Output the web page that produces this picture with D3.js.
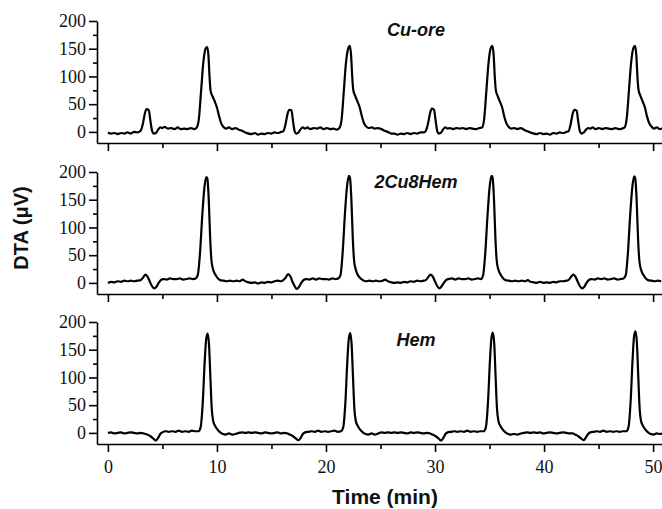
<!DOCTYPE html>
<html>
<head>
<meta charset="utf-8">
<script src="https://cdn.jsdelivr.net/npm/d3@7"></script>
<style>
  body { margin: 0; background: #fff; }
  svg { display: block; }
  .tick text { font-family: 'Liberation Serif', 'DejaVu Serif', serif; font-size: 18px; }
</style>
</head>
<body>
<svg id="chart" width="662" height="509"></svg>
<script>
// [time (min), DTA (uV)]
const cuOre = [
  [0, -1], [0.3, -3], [0.6, -2], [0.9, -4], [1.2, -2], [1.5, -3], [1.8, -1], [2.1, -3], [2.4, 0], [2.7, -1],
  [3.0, 2], [3.2, 14], [3.4, 34], [3.55, 41], [3.75, 39], [3.9, 20], [4.05, 2], [4.2, -3], [4.4, -2], [4.6, 4],
  [4.8, 8], [5.0, 7], [5.2, 9], [5.5, 6], [5.8, 7], [6.1, 5], [6.4, 8], [6.7, 5], [7.0, 6], [7.3, 5],
  [7.6, 7], [7.9, 5], [8.15, 8], [8.35, 25], [8.55, 75], [8.75, 125], [8.95, 150], [9.1, 153], [9.22, 138], [9.32, 100],
  [9.42, 74], [9.6, 64], [9.8, 55], [10.0, 44], [10.2, 28], [10.4, 15], [10.6, 9], [10.85, 6], [11.1, 8], [11.4, 5],
  [11.7, 7], [12.0, 4], [12.3, 2], [12.6, -1], [12.9, -3],
  [13.18, -4], [13.48, -2], [13.78, -5], [14.08, -3], [14.38, -4], [14.68, -2], [14.98, -3], [15.28, -1], [15.58, -2], [15.88, 0],
  [16.08, 1], [16.28, 13], [16.48, 33], [16.63, 40], [16.83, 39], [16.98, 19], [17.13, 1], [17.28, -3], [17.48, -1], [17.68, 5],
  [17.88, 8], [18.08, 6], [18.28, 8], [18.58, 5], [18.88, 7], [19.18, 6], [19.48, 8], [19.78, 5], [20.08, 7], [20.38, 5],
  [20.68, 6], [20.98, 4], [21.23, 7], [21.43, 22], [21.63, 72], [21.83, 124], [22.03, 150], [22.18, 155], [22.30, 139], [22.40, 102],
  [22.50, 76], [22.68, 65], [22.88, 55], [23.08, 45], [23.28, 29], [23.48, 16], [23.68, 10], [23.93, 7], [24.18, 8], [24.48, 6],
  [24.78, 7], [25.08, 5], [25.38, 2], [25.68, 0], [25.98, -3],
  [26.26, -3], [26.56, -5], [26.86, -3], [27.16, -4], [27.46, -2], [27.76, -4], [28.06, -2], [28.36, -3], [28.66, -1], [28.96, -1],
  [29.16, 2], [29.36, 15], [29.56, 35], [29.71, 42], [29.91, 40], [30.06, 20], [30.21, 1], [30.36, -3], [30.56, -1], [30.76, 5],
  [30.96, 8], [31.16, 6], [31.36, 7], [31.66, 5], [31.96, 7], [32.26, 6], [32.56, 7], [32.86, 5], [33.16, 7], [33.46, 6],
  [33.76, 5], [34.06, 7], [34.31, 8], [34.51, 24], [34.71, 74], [34.91, 125], [35.11, 151], [35.26, 155], [35.38, 138], [35.48, 100],
  [35.58, 75], [35.76, 64], [35.96, 54], [36.16, 44], [36.36, 27], [36.56, 15], [36.76, 9], [37.01, 6], [37.26, 7], [37.56, 5],
  [37.86, 7], [38.16, 4], [38.46, 1], [38.76, -1], [39.06, -3],
  [39.34, -4], [39.64, -2], [39.94, -4], [40.24, -3], [40.54, -5], [40.84, -2], [41.14, -3], [41.44, -1], [41.74, -2], [42.04, 0],
  [42.24, 1], [42.44, 14], [42.64, 34], [42.79, 40], [42.99, 38], [43.14, 18], [43.29, 1], [43.44, -3], [43.64, -1], [43.84, 4],
  [44.04, 7], [44.24, 6], [44.44, 8], [44.74, 5], [45.04, 7], [45.34, 5], [45.64, 7], [45.94, 6], [46.24, 5], [46.54, 7],
  [46.84, 5], [47.14, 6], [47.39, 8], [47.59, 26], [47.79, 76], [47.99, 126], [48.19, 151], [48.34, 155], [48.46, 139], [48.56, 101],
  [48.66, 76], [48.84, 65], [49.04, 55], [49.24, 45], [49.44, 28], [49.64, 16], [49.84, 10], [50.09, 6], [50.34, 8], [50.64, 5],
  [50.84, 7]
];

const cu2Hem8 = [
  [0, 0], [0.3, 2], [0.6, 1], [0.9, 3], [1.2, 2], [1.5, 4], [1.8, 3], [2.1, 4], [2.4, 3], [2.7, 4],
  [3.0, 5], [3.2, 9], [3.45, 15], [3.65, 11], [3.85, 2], [4.05, -6], [4.25, -10], [4.45, -7], [4.65, 0], [4.85, 5],
  [5.1, 7], [5.4, 6], [5.7, 8], [6.0, 7], [6.3, 7], [6.6, 8], [6.9, 6], [7.2, 7], [7.5, 8], [7.8, 7],
  [8.05, 8], [8.25, 15], [8.45, 55], [8.65, 120], [8.85, 172], [9.02, 191], [9.12, 188], [9.25, 150], [9.38, 80], [9.5, 40],
  [9.65, 24], [9.85, 15], [10.05, 9], [10.3, 5], [10.6, 4], [10.9, 3], [11.2, 4], [11.5, 3], [11.8, 4], [12.1, 3],
  [12.35, 6], [12.6, 3], [12.9, 1],
  [13.18, 0], [13.48, 1], [13.78, -1], [14.08, 1], [14.38, 0], [14.68, 2], [14.98, 1], [15.28, 3], [15.58, 4], [15.88, 3],
  [16.08, 5], [16.28, 9], [16.53, 16], [16.73, 12], [16.93, 2], [17.13, -6], [17.33, -11], [17.53, -7], [17.73, 0], [17.93, 5],
  [18.18, 7], [18.48, 6], [18.78, 8], [19.08, 6], [19.38, 8], [19.68, 7], [19.98, 7], [20.28, 6], [20.58, 8], [20.88, 7],
  [21.13, 8], [21.33, 14], [21.53, 55], [21.73, 122], [21.93, 174], [22.10, 193], [22.20, 190], [22.33, 150], [22.46, 80], [22.58, 40],
  [22.73, 24], [22.93, 14], [23.13, 9], [23.38, 5], [23.68, 3], [23.98, 4], [24.28, 3], [24.58, 4], [24.88, 3], [25.18, 4],
  [25.43, 6], [25.68, 3], [25.98, 1],
  [26.26, 0], [26.56, 1], [26.86, 0], [27.16, 2], [27.46, 1], [27.76, 3], [28.06, 2], [28.36, 4], [28.66, 3], [28.96, 4],
  [29.16, 5], [29.36, 10], [29.61, 15], [29.81, 11], [30.01, 2], [30.21, -6], [30.41, -10], [30.61, -6], [30.81, 0], [31.01, 5],
  [31.26, 7], [31.56, 8], [31.86, 6], [32.16, 8], [32.46, 7], [32.76, 7], [33.06, 8], [33.36, 6], [33.66, 7], [33.96, 8],
  [34.21, 7], [34.41, 14], [34.61, 54], [34.81, 120], [35.01, 173], [35.18, 193], [35.28, 190], [35.41, 150], [35.54, 80], [35.66, 40],
  [35.81, 24], [36.01, 15], [36.21, 9], [36.46, 5], [36.76, 4], [37.06, 3], [37.36, 4], [37.66, 3], [37.96, 4], [38.26, 3],
  [38.51, 5], [38.76, 2], [39.06, 1],
  [39.34, 0], [39.64, 2], [39.94, 0], [40.24, 1], [40.54, 0], [40.84, 2], [41.14, 1], [41.44, 3], [41.74, 3], [42.04, 4],
  [42.24, 5], [42.44, 10], [42.69, 15], [42.89, 11], [43.09, 2], [43.29, -6], [43.49, -10], [43.69, -7], [43.89, 0], [44.09, 5],
  [44.34, 7], [44.64, 6], [44.94, 8], [45.24, 7], [45.54, 8], [45.84, 6], [46.14, 7], [46.44, 8], [46.74, 6], [47.04, 7],
  [47.29, 8], [47.49, 14], [47.69, 54], [47.89, 120], [48.09, 172], [48.26, 192], [48.36, 189], [48.49, 150], [48.62, 80], [48.74, 40],
  [48.89, 24], [49.09, 15], [49.29, 9], [49.54, 5], [49.84, 4], [50.14, 3], [50.44, 4], [50.74, 3]
];

const hem = [
  [0, 0], [0.3, 1], [0.6, -1], [0.9, 0], [1.2, 1], [1.5, -1], [1.8, 0], [2.1, 1], [2.4, 0], [2.7, -1],
  [3.0, 0], [3.3, -1], [3.6, -3], [3.9, -6], [4.15, -10], [4.4, -14], [4.6, -9], [4.8, -2], [5.0, 1], [5.3, 3],
  [5.6, 2], [5.9, 3], [6.2, 2], [6.5, 4], [6.8, 2], [7.1, 3], [7.4, 2], [7.7, 4], [8.0, 3], [8.3, 3],
  [8.5, 10], [8.7, 55], [8.88, 130], [9.02, 170], [9.15, 179], [9.27, 160], [9.4, 100], [9.52, 45], [9.65, 22], [9.85, 12],
  [10.05, 6], [10.3, 1], [10.55, -2], [10.8, -3], [11.1, -1], [11.4, -3], [11.7, -2], [12.0, 0], [12.3, 1], [12.6, 0],
  [12.9, 1],
  [13.18, 0], [13.48, 1], [13.78, 0], [14.08, -1], [14.38, 1], [14.68, 0], [14.98, -1], [15.28, 0], [15.58, 1], [15.88, -1],
  [16.18, 0], [16.48, -1], [16.68, -3], [16.98, -6], [17.23, -10], [17.48, -13], [17.68, -9], [17.88, -2], [18.08, 1], [18.38, 2],
  [18.68, 3], [18.98, 2], [19.28, 4], [19.58, 2], [19.88, 3], [20.18, 2], [20.48, 3], [20.78, 4], [21.08, 2], [21.38, 3],
  [21.58, 10], [21.78, 55], [21.96, 130], [22.10, 171], [22.23, 180], [22.35, 160], [22.48, 100], [22.60, 45], [22.73, 22], [22.93, 12],
  [23.13, 6], [23.38, 1], [23.63, -2], [23.88, -3], [24.18, -1], [24.48, -3], [24.78, -1], [25.08, 1], [25.38, 0], [25.68, 1],
  [25.98, 0],
  [26.26, 1], [26.56, 0], [26.86, 1], [27.16, 0], [27.46, -1], [27.76, 1], [28.06, 0], [28.36, 1], [28.66, 0], [28.96, -1],
  [29.26, 0], [29.56, -1], [29.76, -3], [30.06, -6], [30.31, -10], [30.56, -14], [30.76, -9], [30.96, -2], [31.16, 1], [31.46, 2],
  [31.76, 3], [32.06, 2], [32.36, 3], [32.66, 2], [32.96, 4], [33.26, 2], [33.56, 3], [33.86, 2], [34.16, 3], [34.46, 3],
  [34.66, 10], [34.86, 56], [35.04, 131], [35.18, 172], [35.31, 181], [35.43, 161], [35.56, 100], [35.68, 45], [35.81, 22], [36.01, 12],
  [36.21, 6], [36.46, 1], [36.71, -2], [36.96, -3], [37.26, -2], [37.56, -3], [37.86, -1], [38.16, 0], [38.46, 1], [38.76, 0],
  [39.06, 1],
  [39.34, 0], [39.64, 1], [39.94, -1], [40.24, 0], [40.54, 1], [40.84, 0], [41.14, -1], [41.44, 0], [41.74, 1], [42.04, 0],
  [42.34, -1], [42.64, -1], [42.84, -3], [43.14, -6], [43.39, -10], [43.64, -13], [43.84, -8], [44.04, -2], [44.24, 1], [44.54, 2],
  [44.84, 3], [45.14, 2], [45.44, 4], [45.74, 2], [46.04, 3], [46.34, 2], [46.64, 3], [46.94, 2], [47.24, 3], [47.54, 3],
  [47.74, 10], [47.94, 57], [48.12, 133], [48.26, 175], [48.39, 183], [48.51, 164], [48.64, 102], [48.76, 46], [48.89, 22], [49.09, 12],
  [49.29, 6], [49.54, 1], [49.79, -2], [50.04, -3], [50.34, -1], [50.64, -2], [50.84, -1]
];

const panelNames = ['Cu-ore', '2Cu8Hem', 'Hem'];
const panelSeries = [cuOre, cu2Hem8, hem];
const xMajor = [0, 10, 20, 30, 40, 50];
const xMinor = [5, 15, 25, 35, 45];
const yMajor = [0, 50, 100, 150, 200];
const yMinor = [25, 75, 125, 175];

const svg = d3.select('#chart');
const panelTops = [21, 172, 322];
const panelH = 122;
const serif = 'Liberation Serif';
const sans = 'Liberation Sans';

const x = d3.scaleLinear().domain([-1, 51]).range([97, 664]);

panelSeries.forEach(function (series, i) {
  const top = panelTops[i];
  const y = d3.scaleLinear().domain([-20, 200]).range([top + panelH, top]);
  const g = svg.append('g');
  const last = i === panelSeries.length - 1;

  // x axis, labels only on the bottom panel
  g.append('g')
    .attr('transform', `translate(0,${top + panelH})`)
    .call(d3.axisBottom(x).tickValues(xMajor).tickSize(8).tickSizeOuter(0)
      .tickPadding(8).tickFormat(last ? d3.format('d') : ''));
  g.append('g')
    .attr('transform', `translate(0,${top + panelH})`)
    .call(d3.axisBottom(x).tickValues(xMinor).tickSize(5).tickSizeOuter(0).tickFormat(''))
    .select('.domain').remove();

  g.append('g')
    .attr('transform', `translate(${x(-1)},0)`)
    .call(d3.axisLeft(y).tickValues(yMajor).tickSize(8).tickSizeOuter(0).tickPadding(3));
  g.append('g')
    .attr('transform', `translate(${x(-1)},0)`)
    .call(d3.axisLeft(y).tickValues(yMinor).tickSize(4).tickSizeOuter(0).tickFormat(''))
    .select('.domain').remove();

  g.selectAll('g').attr('font-family', serif).attr('font-size', 18);
  g.selectAll('.domain, .tick line').attr('stroke', '#000').attr('stroke-width', 1.6);
  g.selectAll('.tick text').attr('fill', '#111');

  const line = d3.line()
    .x(d => x(d[0]))
    .y(d => y(d[1]))
    .curve(d3.curveMonotoneX);

  g.append('path')
    .datum(series)
    .attr('d', line)
    .attr('fill', 'none')
    .attr('stroke', '#000')
    .attr('stroke-width', 2.2)
    .attr('stroke-linejoin', 'round');

  g.append('text')
    .text(panelNames[i])
    .attr('x', 416)
    .attr('y', top + [10, 11, 19][i])
    .attr('text-anchor', 'middle')
    .attr('dominant-baseline', 'middle')
    .attr('font-family', sans)
    .attr('font-weight', 'bold')
    .attr('font-style', 'italic')
    .attr('font-size', 18)
    .attr('fill', '#111');
});

svg.append('text')
  .text('DTA (\u03bcV)')
  .attr('transform', 'translate(23,228) rotate(-90)')
  .attr('text-anchor', 'middle')
  .attr('dominant-baseline', 'middle')
  .attr('font-family', sans)
  .attr('font-weight', 'bold')
  .attr('font-size', 20)
  .attr('fill', '#111');

svg.append('text')
  .text('Time (min)')
  .attr('x', 385)
  .attr('y', 504)
  .attr('text-anchor', 'middle')
  .attr('font-family', sans)
  .attr('font-weight', 'bold')
  .attr('font-size', 21)
  .attr('fill', '#111');
</script>
</body>
</html>
